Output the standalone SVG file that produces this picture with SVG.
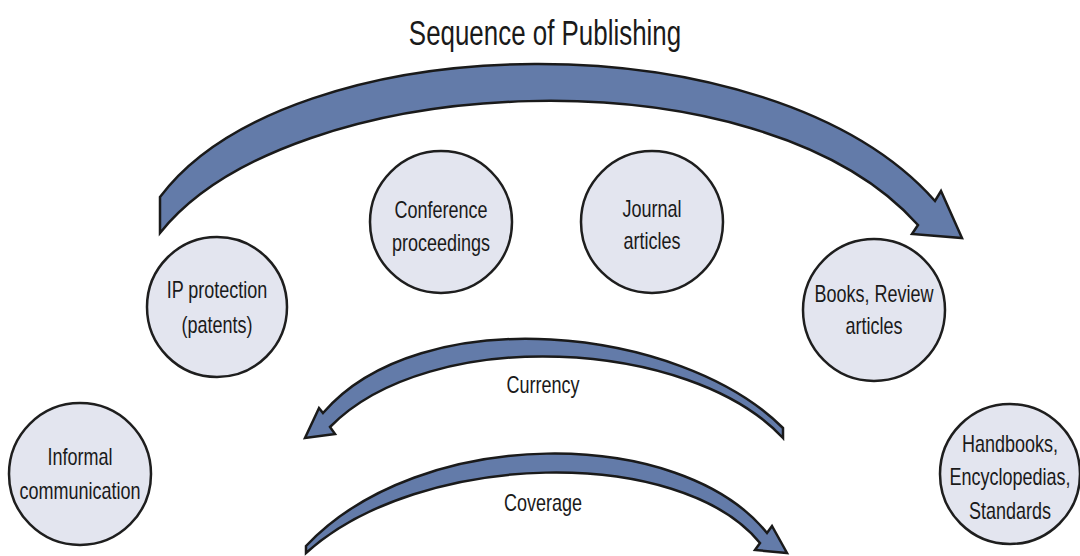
<svg xmlns="http://www.w3.org/2000/svg" width="1080" height="556" viewBox="0 0 1080 556">
<style>
.n{fill:#e3e5ef;stroke:#1e1e1e;stroke-width:2.5}
.a{fill:#637ba9;stroke:#1a1a1a;stroke-width:2.5;stroke-linejoin:miter}
text{font-family:"Liberation Sans",Arial,sans-serif;fill:#1a1a1a;text-anchor:middle}
.t{font-size:24px}
.h{font-size:36px}
</style>
<rect width="1080" height="556" fill="#ffffff"/>
<text class="h" transform="translate(545,45) scale(0.72,1)">Sequence of Publishing</text>
<g id="connectors">
<path id="seq" class="a" d="M160,197 C290,24 770,14 935,201 L941,191 L962,238 L912,234 L918,225 C760,47 290,70 160,233 Z"/>
<path id="currency" class="a" d="M783,428 C680,325 420,300 323,413 L319,408 L305,438 L335,434 L330,427 C430,325 690,338 783,438 Z"/>
<path id="coverage" class="a" d="M306,546 C420,425 680,425 767,533 L772,526 L787,553 L755,550 L760,543 C680,445 420,450 306,553 Z"/>
<text class="t" transform="translate(543,393) scale(0.75,1)">Currency</text>
<text class="t" transform="translate(543,511) scale(0.75,1)">Coverage</text>
</g>
<g id="ip"><circle class="n" cx="217" cy="307" r="70"/><text class="t" transform="translate(217,298) scale(0.75,1)">IP protection</text><text class="t" transform="translate(217,333) scale(0.75,1)">(patents)</text></g>
<g id="conference"><circle class="n" cx="441" cy="222" r="71"/><text class="t" transform="translate(441,218) scale(0.75,1)">Conference</text><text class="t" transform="translate(441,251) scale(0.75,1)">proceedings</text></g>
<g id="journal"><circle class="n" cx="652" cy="222" r="71"/><text class="t" transform="translate(652,217) scale(0.75,1)">Journal</text><text class="t" transform="translate(652,249) scale(0.75,1)">articles</text></g>
<g id="books"><circle class="n" cx="874" cy="310" r="71"/><text class="t" transform="translate(874,302) scale(0.75,1)">Books, Review</text><text class="t" transform="translate(874,334) scale(0.75,1)">articles</text></g>
<g id="informal"><circle class="n" cx="80" cy="474" r="71"/><text class="t" transform="translate(80,465) scale(0.75,1)">Informal</text><text class="t" transform="translate(80,499) scale(0.75,1)">communication</text></g>
<g id="handbooks"><circle class="n" cx="1010" cy="474" r="70"/><text class="t" transform="translate(1010,452) scale(0.75,1)">Handbooks,</text><text class="t" transform="translate(1010,485) scale(0.75,1)">Encyclopedias,</text><text class="t" transform="translate(1010,519) scale(0.75,1)">Standards</text></g>
</svg>
